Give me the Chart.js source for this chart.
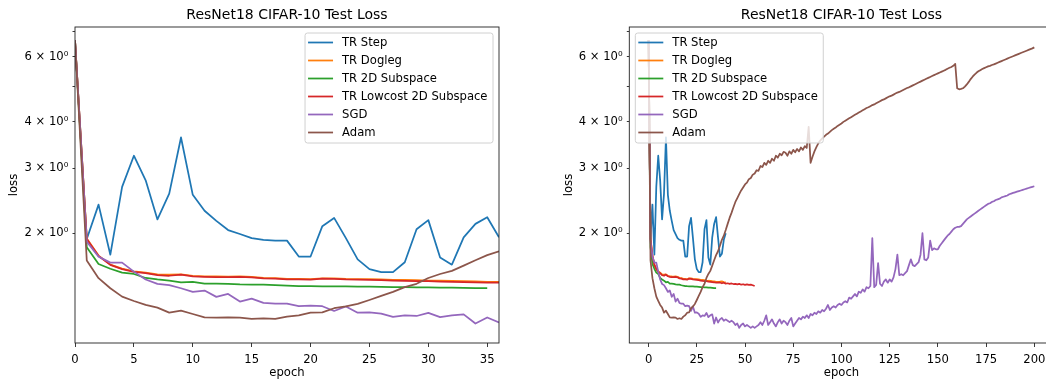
<!DOCTYPE html>
<html>
<head>
<meta charset="utf-8">
<title>ResNet18 CIFAR-10 Test Loss</title>
<script src="https://cdn.jsdelivr.net/npm/chart.js@4/dist/chart.umd.min.js"></script>
<style>
  html, body { margin: 0; padding: 0; background: #fff; }
  body { width: 1046px; height: 383px; overflow: hidden; position: relative; }
  canvas { position: absolute; top: 0; }
  #left { left: 0; }
  #right { left: 526px; }
</style>
</head>
<body>
<canvas id="left" width="526" height="383"></canvas>
<canvas id="right" width="540" height="383"></canvas>
<script>
  // test loss per epoch
  const seriesNames = ["TR Step", "TR Dogleg", "TR 2D Subspace", "TR Lowcost 2D Subspace", "SGD", "Adam"];

  const trStep = [
    6.65, 1.93, 2.39, 1.75, 2.67, 3.24, 2.78, 2.18, 2.56, 3.63,
    2.54, 2.30, 2.16, 2.04, 1.99, 1.94, 1.92, 1.91, 1.91, 1.73,
    1.73, 2.09, 2.20, 1.94, 1.70, 1.60, 1.57, 1.57, 1.67, 2.05,
    2.17, 1.72, 1.645, 1.95, 2.12, 2.21, 1.95, 1.73, 1.76, 1.92,
    2.0
  ];
  const trDogleg = [
    6.65, 1.935, 1.74, 1.645, 1.605, 1.578, 1.565, 1.548, 1.545, 1.548,
    1.535, 1.53, 1.528, 1.527, 1.53, 1.525, 1.515, 1.513, 1.505, 1.505,
    1.502, 1.51, 1.51, 1.505, 1.503, 1.502, 1.50, 1.497, 1.495, 1.493,
    1.49, 1.488, 1.487, 1.484, 1.482, 1.478, 1.478, 1.479, 1.482, 1.476,
    1.474
  ];
  const tr2d = [
    6.65, 1.834, 1.652, 1.603, 1.565, 1.552, 1.514, 1.50, 1.489, 1.474,
    1.477, 1.462, 1.462, 1.46, 1.455, 1.453, 1.453, 1.447, 1.443, 1.44,
    1.438, 1.437, 1.437, 1.436, 1.435, 1.434, 1.433, 1.431, 1.429, 1.428,
    1.428, 1.425, 1.425, 1.424, 1.421, 1.421
  ];
  const trLowcost = [
    6.65, 1.93, 1.736, 1.642, 1.60, 1.572, 1.56, 1.54, 1.535, 1.546,
    1.53, 1.525, 1.522, 1.522, 1.525, 1.52, 1.51, 1.508, 1.50, 1.50,
    1.498, 1.508, 1.505, 1.50, 1.498, 1.496, 1.494, 1.49, 1.487, 1.485,
    1.484, 1.48, 1.478, 1.476, 1.474, 1.47, 1.47, 1.472, 1.465, 1.47,
    1.462, 1.465, 1.46, 1.463, 1.458, 1.46, 1.455, 1.46, 1.452, 1.456,
    1.45, 1.454, 1.45, 1.452, 1.447, 1.44
  ];
  const sgd = [
    6.65, 1.897, 1.729, 1.666, 1.666, 1.575, 1.50, 1.459, 1.448, 1.42,
    1.388, 1.40, 1.346, 1.371, 1.307, 1.331, 1.296, 1.29, 1.29, 1.27,
    1.275, 1.27, 1.233, 1.268, 1.22, 1.222, 1.212, 1.188, 1.20, 1.195,
    1.218, 1.186, 1.20, 1.207, 1.14, 1.184, 1.147, 1.17, 1.18, 1.16,
    1.17, 1.16, 1.15, 1.16, 1.15, 1.13, 1.14, 1.11, 1.13, 1.14,
    1.12, 1.13, 1.12, 1.11, 1.12, 1.11, 1.12, 1.13, 1.15, 1.13,
    1.16, 1.20, 1.13, 1.15, 1.17, 1.14, 1.12, 1.15, 1.17, 1.14,
    1.16, 1.15, 1.13, 1.16, 1.18, 1.12, 1.14, 1.16, 1.18, 1.17,
    1.19, 1.18, 1.20, 1.18, 1.21, 1.20, 1.22, 1.21, 1.23, 1.22,
    1.24, 1.23, 1.25, 1.28, 1.24, 1.26, 1.27, 1.26, 1.28, 1.29,
    1.28, 1.30, 1.31, 1.30, 1.34, 1.33, 1.35, 1.37, 1.35, 1.39,
    1.38, 1.41, 1.39, 1.43, 1.42, 1.44, 1.94, 1.43, 1.45, 1.66,
    1.46, 1.44, 1.48, 1.50, 1.47, 1.50, 1.48, 1.52, 1.60, 1.75,
    1.54, 1.55, 1.54, 1.56, 1.58, 1.64, 1.70, 1.64, 1.63, 1.65,
    1.67, 1.75, 2.00, 1.70, 1.69, 1.72, 1.91, 1.80, 1.82, 1.81,
    1.81, 1.85, 1.88, 1.91, 1.94, 1.97, 1.99, 2.02, 2.05, 2.07,
    2.08, 2.08, 2.09, 2.12, 2.15, 2.18, 2.20, 2.22, 2.24, 2.26,
    2.28, 2.30, 2.32, 2.34, 2.36, 2.38, 2.40, 2.41, 2.43, 2.44,
    2.46, 2.47, 2.48, 2.50, 2.51, 2.52, 2.53, 2.55, 2.56, 2.57,
    2.58, 2.59, 2.60, 2.61, 2.62, 2.63, 2.64, 2.65, 2.66, 2.67,
    2.68
  ];
  const adam = [
    6.65, 1.688, 1.512, 1.42, 1.348, 1.312, 1.28, 1.259, 1.22, 1.235,
    1.21, 1.185, 1.183, 1.185, 1.183, 1.173, 1.178, 1.173, 1.19, 1.20,
    1.22, 1.222, 1.254, 1.268, 1.288, 1.32, 1.354, 1.388, 1.43, 1.46,
    1.514, 1.552, 1.582, 1.635, 1.69, 1.745, 1.788, 1.85, 1.92, 1.97,
    2.04, 2.12, 2.20, 2.27, 2.35, 2.43, 2.49, 2.55, 2.61, 2.66,
    2.71, 2.74, 2.80, 2.82, 2.88, 2.90, 2.96, 2.95, 3.04, 3.02,
    3.10, 3.06, 3.14, 3.10, 3.18, 3.14, 3.24, 3.20, 3.28, 3.25,
    3.32, 3.30, 3.24, 3.33, 3.28, 3.36, 3.31, 3.38, 3.33, 3.41,
    3.36, 3.44, 3.40, 3.88, 3.10, 3.22, 3.33, 3.42, 3.50, 3.56,
    3.61, 3.65, 3.69, 3.72, 3.76, 3.80, 3.83, 3.86, 3.90, 3.93,
    3.96, 4.00, 4.03, 4.06, 4.09, 4.12, 4.15, 4.18, 4.21, 4.24,
    4.27, 4.30, 4.33, 4.36, 4.38, 4.41, 4.44, 4.46, 4.49, 4.52,
    4.55, 4.58, 4.60, 4.63, 4.66, 4.69, 4.71, 4.74, 4.77, 4.80,
    4.82, 4.85, 4.88, 4.91, 4.94, 4.96, 4.99, 5.02, 5.05, 5.08,
    5.11, 5.14, 5.17, 5.20, 5.23, 5.26, 5.29, 5.32, 5.35, 5.38,
    5.41, 5.44, 5.47, 5.50, 5.53, 5.57, 5.60, 5.63, 5.67, 5.74,
    4.93, 4.90, 4.91, 4.93, 4.98, 5.05, 5.13, 5.22, 5.30, 5.37,
    5.43, 5.48, 5.52, 5.56, 5.59, 5.62, 5.65, 5.67, 5.70, 5.72,
    5.75, 5.78, 5.81, 5.84, 5.87, 5.90, 5.93, 5.96, 5.99, 6.02,
    6.05, 6.08, 6.11, 6.14, 6.17, 6.20, 6.23, 6.26, 6.29, 6.32,
    6.36
  ];

  const yTickValues = [2, 3, 4, 5, 6, 7];
  const yTickLabels = ["2 \u00d7 10\u2070", "3 \u00d7 10\u2070", "4 \u00d7 10\u2070", "", "6 \u00d7 10\u2070", ""];
  const xTicksLeft = [0, 5, 10, 15, 20, 25, 30, 35];
  const xTicksRight = [0, 25, 50, 75, 100, 125, 150, 175, 200];

  const seriesValues = [trStep, trDogleg, tr2d, trLowcost, sgd, adam];
  const colors = ["#1f77b4", "#ff7f0e", "#2ca02c", "#d62728", "#9467bd", "#8c564b"];
  const FONT = '"DejaVu Sans", sans-serif';
  const chartTitle = "ResNet18 CIFAR-10 Test Loss";

  // axes frame, title above the plot area, boxed legend inside it
  const decorations = {
    id: "decorations",
    afterDraw(chart, args, opts) {
      const { ctx, chartArea: a } = chart;
      ctx.save();
      ctx.strokeStyle = "#222";
      ctx.lineWidth = 0.9;
      ctx.strokeRect(a.left, a.top, a.right - a.left, a.bottom - a.top);

      ctx.fillStyle = "#000";
      ctx.font = `14px ${FONT}`;
      ctx.textAlign = "center";
      ctx.textBaseline = "alphabetic";
      ctx.fillText(chartTitle, (a.left + a.right) / 2, 19.3);

      ctx.font = `11.6px ${FONT}`;
      const sets = chart.data.datasets;
      const textW = Math.max(...sets.map((d) => ctx.measureText(d.label).width));
      const w = 3 + 25 + 9 + textW + 5.5;
      const h = 110;
      const x0 = opts.side === "right" ? a.right - 6 - w : a.left + 6;
      const y0 = a.top + 6;
      ctx.beginPath();
      ctx.roundRect(x0, y0, w, h, 2.5);
      ctx.fillStyle = "rgba(255,255,255,0.8)";
      ctx.fill();
      ctx.strokeStyle = "#d0d0d0";
      ctx.lineWidth = 1;
      ctx.stroke();
      sets.forEach((d, i) => {
        const cy = y0 + 9.5 + 18 * i;
        ctx.beginPath();
        ctx.moveTo(x0 + 3, cy);
        ctx.lineTo(x0 + 28, cy);
        ctx.strokeStyle = d.borderColor;
        ctx.lineWidth = 1.75;
        ctx.stroke();
        ctx.fillStyle = "#000";
        ctx.textAlign = "left";
        ctx.textBaseline = "middle";
        ctx.fillText(d.label, x0 + 37, cy);
      });
      ctx.restore();
    },
  };

  function makeChart(id, xMin, xMax, xTicks, pad, side) {
    const tickFont = { family: FONT, size: 11.6 };
    return new Chart(document.getElementById(id), {
      type: "line",
      data: {
        datasets: seriesNames.map((name, i) => ({
          label: name,
          data: seriesValues[i].map((v, e) => ({ x: e, y: v })),
          borderColor: colors[i],
          borderWidth: 1.75,
          borderJoinStyle: "round",
          pointRadius: 0,
          tension: 0,
          fill: false,
          order: seriesNames.length - i,
        })),
      },
      options: {
        responsive: false,
        animation: false,
        devicePixelRatio: 1,
        events: [],
        layout: { padding: pad },
        plugins: {
          legend: { display: false },
          tooltip: { enabled: false },
          decorations: { side },
        },
        scales: {
          x: {
            type: "linear",
            min: xMin,
            max: xMax,
            afterBuildTicks: (s) => { s.ticks = xTicks.map((v) => ({ value: v })); },
            afterFit: (s) => { s.height = 40; },
            border: { display: false },
            grid: { drawOnChartArea: false, drawTicks: true, tickLength: 4, color: "#222", lineWidth: 0.9 },
            ticks: { font: tickFont, color: "#000", padding: 6, maxRotation: 0, autoSkip: false },
            title: { display: true, text: "epoch", font: tickFont, color: "#000", padding: { top: 0, bottom: 3.1 } },
          },
          y: {
            type: "logarithmic",
            min: 1.01,
            max: 7.22,
            afterBuildTicks: (s) => { s.ticks = yTickValues.map((v) => ({ value: v })); },
            afterFit: (s) => { s.width = 75; },
            border: { display: false },
            grid: { drawOnChartArea: false, drawTicks: true, tickLength: 2.5, color: "#222", lineWidth: 0.9 },
            ticks: {
              font: tickFont,
              color: "#000",
              padding: 4.2,
              autoSkip: false,
              callback: (v) => yTickLabels[yTickValues.indexOf(v)] ?? "",
            },
            title: { display: true, text: "loss", font: tickFont, color: "#000", padding: { top: 7.4, bottom: 0 } },
          },
        },
      },
      plugins: [decorations],
    });
  }

  makeChart("left", 0, 36, xTicksLeft, { left: 0, right: 27, top: 27, bottom: 0 }, "right");
  makeChart("right", -10, 210, xTicksRight, { left: 28.3, right: 12.4, top: 27, bottom: 0 }, "left");
</script>
</body>
</html>
